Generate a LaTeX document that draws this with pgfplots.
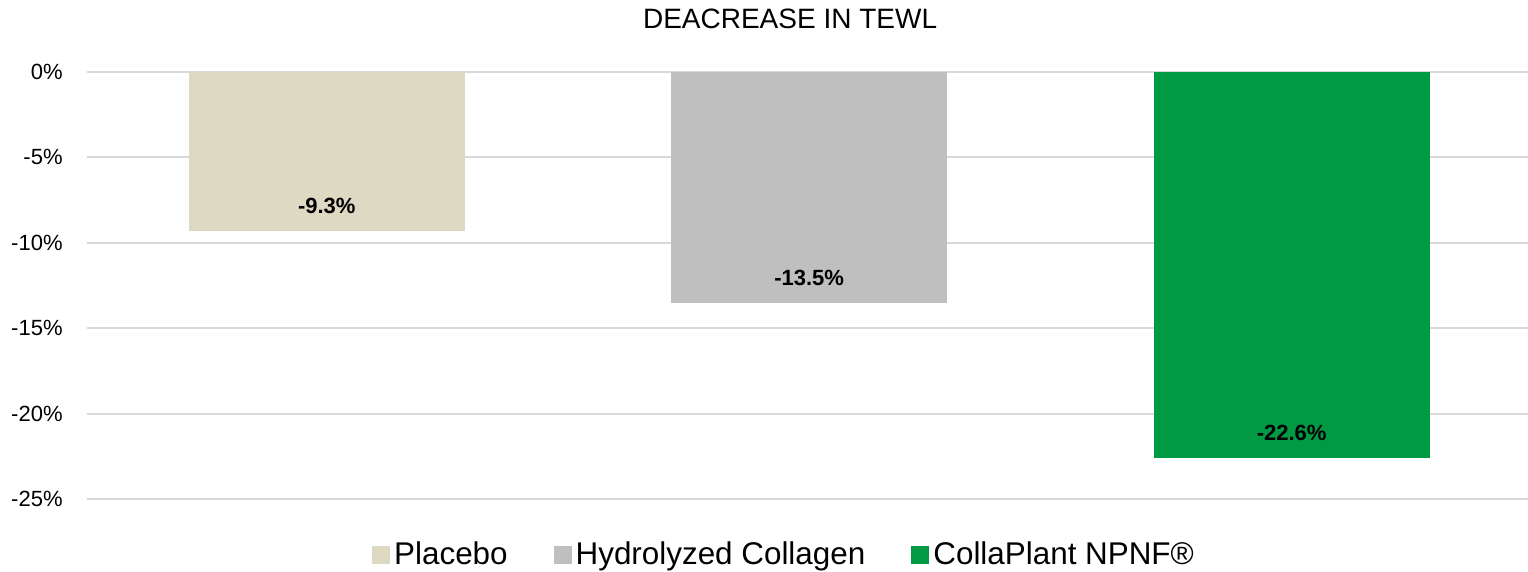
\documentclass[border=0pt]{standalone}
\usepackage{fontspec}
\setmainfont{Liberation Sans}
\usepackage{pgfplots}
\pgfplotsset{compat=1.18}
\definecolor{placebo}{HTML}{DDD9C3}
\definecolor{hydro}{HTML}{BFBFBF}
\definecolor{colla}{HTML}{009A44}
\definecolor{gridc}{HTML}{D9D9D9}

\begin{document}
\begin{tikzpicture}
\useasboundingbox (0,0) rectangle (764pt,286pt);
\begin{axis}[
    at={(43.5pt,36.5pt)}, anchor=south west,
    scale only axis,
    width=720.5pt, height=213.5pt,
    ybar, bar width=138pt, bar shift=0pt,
    xmin=-0.497, xmax=2.49,
    ymin=-25, ymax=0,
    ytick={-25,-20,...,0},
    xtick=\empty,
    yticklabel={\pgfmathprintnumber{\tick}\%},
    /pgf/number format/assume math mode=true,
    yticklabel style={font=\fontsize{11}{13}\selectfont, anchor=east, inner sep=0pt, xshift=-12pt},
    axis line style={draw=none},
    major tick length=0pt,
    ymajorgrids=true,
    grid style={gridc, line width=1pt},
    nodes near coords={\pgfmathprintnumber[fixed, precision=1]{\pgfplotspointmeta}\%},
    every node near coord/.append style={font=\bfseries\fontsize{11}{13}\selectfont, anchor=center, yshift=12.5pt},
    legend columns=3,
    legend style={draw=none, at={(0.4844,-0.131)}, anchor=center,
        font=\fontsize{15.7}{17}\selectfont,
        /tikz/every even column/.append style={column sep=21pt}},
    legend image code/.code={\fill[#1] (0pt,-4.5pt) rectangle (9pt,4.5pt);},
    title={DEACREASE IN TEWL},
    title style={font=\fontsize{14}{16}\selectfont, at={(0.4879,1.096)}, anchor=center},
    clip=false,
]
\addplot[fill=placebo, draw=none] coordinates {(0,-9.3)};
\addplot[fill=hydro, draw=none] coordinates {(1,-13.5)};
\addplot[fill=colla, draw=none] coordinates {(2,-22.6)};
\legend{Placebo, Hydrolyzed Collagen, CollaPlant NPNF®}
\end{axis}
\end{tikzpicture}
\end{document}
